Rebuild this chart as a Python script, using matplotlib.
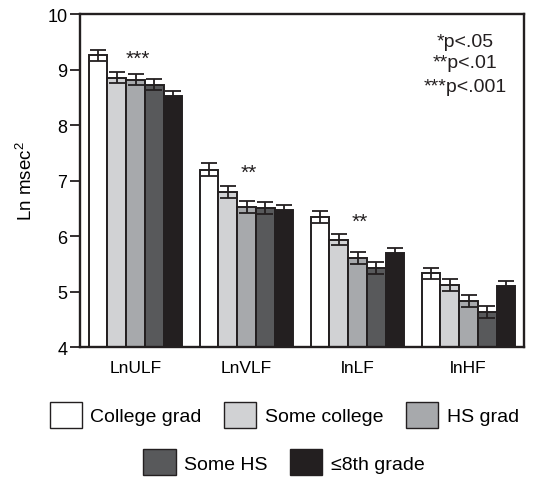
import matplotlib
matplotlib.use("Agg")
import matplotlib.pyplot as plt
import numpy as np
from matplotlib.patches import Patch

plt.rcParams['font.family'] = ['Liberation Sans', 'DejaVu Sans']
plt.rcParams['mathtext.fontset'] = 'custom'
plt.rcParams['mathtext.rm'] = 'Liberation Sans'
plt.rcParams['mathtext.it'] = 'Liberation Sans:italic'
plt.rcParams['mathtext.default'] = 'regular'

categories = ["LnULF", "LnVLF", "lnLF", "lnHF"]
groups = ["College grad", "Some college", "HS grad", "Some HS", "\u22648th grade"]
values = {
    "College grad": [9.26, 7.20, 6.34, 5.33],
    "Some college": [8.85, 6.80, 5.94, 5.12],
    "HS grad":      [8.82, 6.53, 5.60, 4.84],
    "Some HS":      [8.73, 6.51, 5.43, 4.64],
    "\u22648th grade": [8.52, 6.48, 5.70, 5.11],
}
errors = {
    "College grad": [0.10, 0.11, 0.11, 0.105],
    "Some college": [0.10, 0.108, 0.105, 0.108],
    "HS grad":      [0.10, 0.108, 0.108, 0.108],
    "Some HS":      [0.10, 0.105, 0.11, 0.11],
    "\u22648th grade": [0.095, 0.09, 0.09, 0.09],
}
significance = ["***", "**", "**", ""]
sig_y = [9.21, 7.15, 6.26, 0]
pvalue_labels = ["*p<.05", "**p<.01", "***p<.001"]
pvalue_y = [9.43, 9.04, 8.62]
colors = ["#ffffff", "#d1d2d4", "#a7a9ac", "#58595b", "#231f20"]
edge = "#231f20"

fig = plt.figure(figsize=(5.56, 4.81), dpi=100)
ax = fig.add_axes([80/556, 1-348.3/481, 444/556, (348.3-15)/481])

x = np.arange(len(categories))
w = 0.169
handles = []
for i, g in enumerate(groups):
    xpos = x + (i - 2) * w
    ax.bar(xpos, np.array(values[g]) - 4, width=w, bottom=4, color=colors[i],
           edgecolor=edge, linewidth=1.4, zorder=2)
    ax.errorbar(xpos, values[g], yerr=errors[g], fmt='none', ecolor=edge,
                elinewidth=1.3, capsize=5.5, capthick=1.3, zorder=3)
    handles.append(Patch(facecolor=colors[i], edgecolor=edge, linewidth=1.0, label=g))

for xi, s, y in zip(x, significance, sig_y):
    if s:
        ax.text(xi + 0.02, y, s, ha='center', va='center', fontsize=15, color=edge)

for lab, y in zip(pvalue_labels, pvalue_y):
    ax.text(2.97, y, lab, ha='center', va='baseline', fontsize=14, color=edge)

ax.set_xlim(-0.5, 3.5)
ax.set_ylim(4, 10)
ax.set_yticks([4, 5, 6, 7, 8, 9, 10])
ax.set_xticks(x)
ax.set_xticklabels(categories, fontsize=12.5)
ax.tick_params(axis='x', length=0, pad=9)
ax.tick_params(axis='y', length=7, width=1.3, pad=2, labelsize=13, color=edge)
ax.set_ylabel("Ln msec$^2$", fontsize=13.5, labelpad=8)
for sp in ax.spines.values():
    sp.set_linewidth(1.7)
    sp.set_color(edge)

leg1 = fig.legend(handles=handles[:3], loc='center', bbox_to_anchor=(0.511, 0.135),
                  ncol=3, frameon=False, fontsize=14, handlelength=1.65, handleheight=1.65,
                  handletextpad=0.45, columnspacing=1.15, borderpad=0)
leg2 = fig.legend(handles=handles[3:], loc='center', bbox_to_anchor=(0.511, 0.037),
                  ncol=2, frameon=False, fontsize=14, handlelength=1.65, handleheight=1.65,
                  handletextpad=0.45, columnspacing=1.15, borderpad=0)

fig.savefig("out.png", dpi=100)
